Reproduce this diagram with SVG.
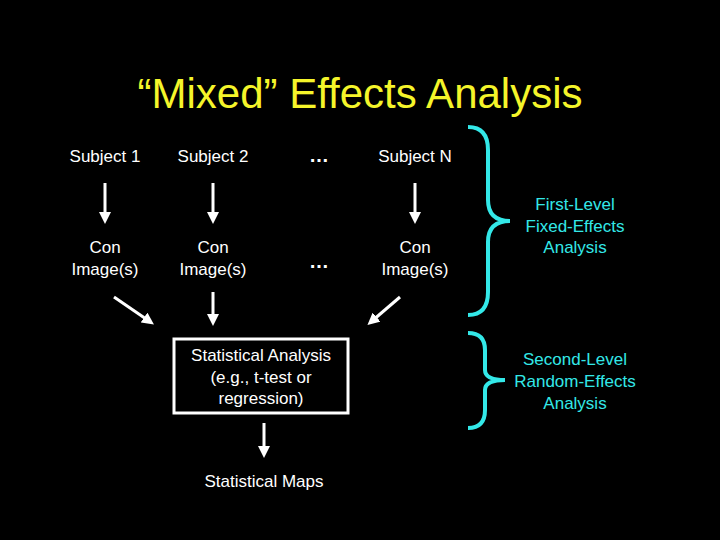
<svg xmlns="http://www.w3.org/2000/svg" width="720" height="540" viewBox="0 0 720 540">
<style>
text{font-family:"Liberation Sans",Arial,sans-serif;fill:#fff;font-size:17px;text-anchor:middle}
.c{fill:#33e8e8}
.a{stroke:#fff;stroke-width:3;fill:none}
.b{stroke:#33e8e8;stroke-width:4;fill:none}
.e{font-weight:bold;font-size:20px}
</style>
<defs><marker id="ah" markerWidth="4" markerHeight="4" refX="2" refY="2" orient="auto" markerUnits="strokeWidth"><path d="M0,0 L4,2 L0,4 Z" fill="#fff"/></marker></defs>
<rect width="720" height="540" fill="#000"/>
<text x="360" y="108" style="font-size:42px;fill:#f5f52a">“Mixed” Effects Analysis</text>
<g id="s1"><text x="105" y="162">Subject 1</text></g>
<g id="s2"><text x="213" y="162">Subject 2</text></g>
<g id="d1"><text x="319" y="162" class="e">…</text></g>
<g id="sn"><text x="415" y="162">Subject N</text></g>
<g id="c1"><text x="105" y="253">Con</text><text x="105" y="275">Image(s)</text></g>
<g id="c2"><text x="213" y="253">Con</text><text x="213" y="275">Image(s)</text></g>
<g id="d2"><text x="319" y="268" class="e">…</text></g>
<g id="cn"><text x="415" y="253">Con</text><text x="415" y="275">Image(s)</text></g>
<g id="sa"><rect x="174" y="339" width="174" height="74" fill="none" stroke="#fff" stroke-width="3"/>
<text x="261" y="361">Statistical Analysis</text><text x="261" y="383">(e.g., t-test or</text><text x="261" y="404">regression)</text></g>
<g id="sm"><text x="264" y="487">Statistical Maps</text></g>
<g id="fl"><text x="575" y="210" class="c">First-Level</text><text x="575" y="232" class="c">Fixed-Effects</text><text x="575" y="253" class="c">Analysis</text></g>
<g id="sl"><text x="575" y="365" class="c">Second-Level</text><text x="575" y="387" class="c">Random-Effects</text><text x="575" y="409" class="c">Analysis</text></g>
<g id="connectors">
<line class="a" x1="105" y1="183" x2="105" y2="218" marker-end="url(#ah)"/>
<line class="a" x1="213" y1="183" x2="213" y2="218" marker-end="url(#ah)"/>
<line class="a" x1="415" y1="183" x2="415" y2="218" marker-end="url(#ah)"/>
<line class="a" x1="114" y1="297" x2="149" y2="321" marker-end="url(#ah)"/>
<line class="a" x1="213" y1="292" x2="213" y2="320" marker-end="url(#ah)"/>
<line class="a" x1="400" y1="297" x2="372" y2="321" marker-end="url(#ah)"/>
<line class="a" x1="264" y1="423" x2="264" y2="452" marker-end="url(#ah)"/>
<path class="b" d="M468,127 Q488,127 488,150 L488,200 Q488,221 510,221 Q488,221 488,242 L488,292 Q488,315 468,315"/>
<path class="b" d="M468,333 Q485,333 485,350 L485,370 Q485,380 505,380 Q485,380 485,390 L485,410 Q485,428 468,428"/>
</g>
</svg>
